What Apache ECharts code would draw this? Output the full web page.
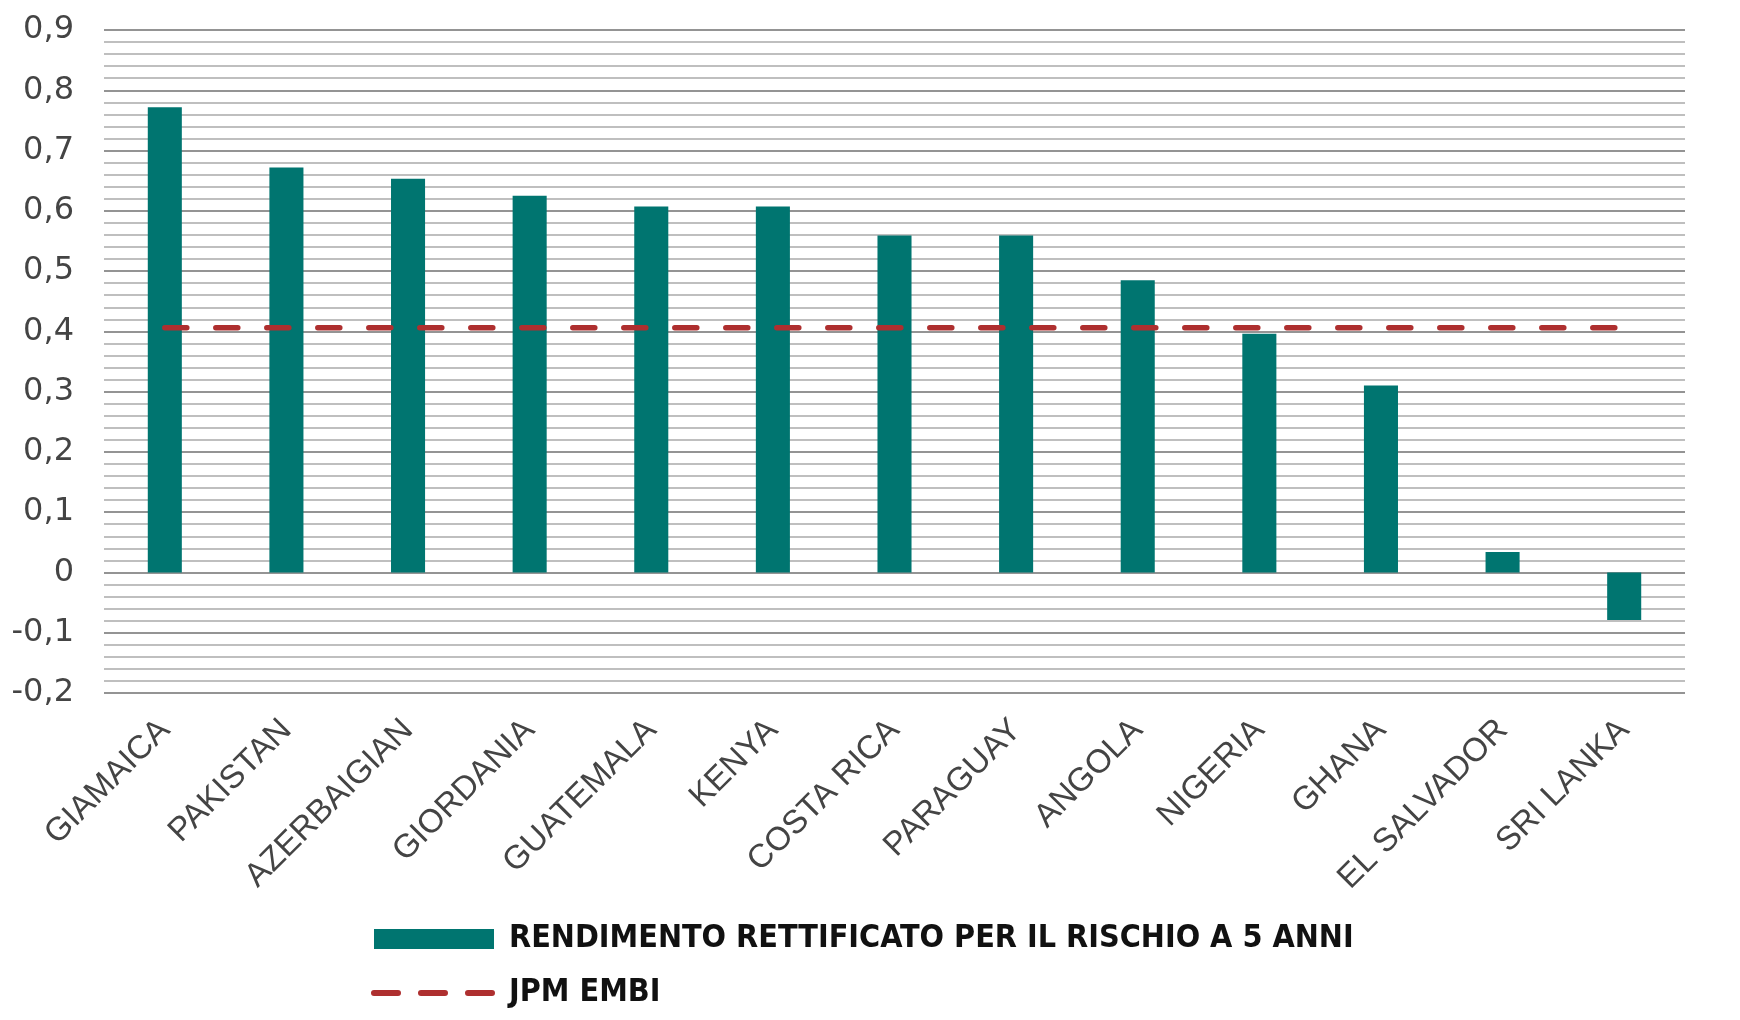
<!DOCTYPE html>
<html>
<head>
<meta charset="utf-8">
<script src="https://cdn.jsdelivr.net/npm/echarts@6/dist/echarts.min.js"></script>
<style>
html,body{margin:0;padding:0;background:#fff;}
#chart{width:1740px;height:1020px;}
</style>
</head>
<body>
<div id="chart"></div>
<script>
var categories = ['GIAMAICA','PAKISTAN','AZERBAIGIAN','GIORDANIA','GUATEMALA','KENYA','COSTA RICA','PARAGUAY','ANGOLA','NIGERIA','GHANA','EL SALVADOR','SRI LANKA'];
var rendimento = [0.772, 0.672, 0.653, 0.625, 0.607, 0.607, 0.559, 0.559, 0.485, 0.396, 0.31, 0.034, -0.079];
var embi = [0.406, 0.406, 0.406, 0.406, 0.406, 0.406, 0.406, 0.406, 0.406, 0.406, 0.406, 0.406, 0.406];
var seriesNames = ['RENDIMENTO RETTIFICATO PER IL RISCHIO A 5 ANNI', 'JPM EMBI'];

var chart = echarts.init(document.getElementById('chart'));
chart.setOption({
  animation: false,
  backgroundColor: '#ffffff',
  grid: {left: 104, right: 55, top: 30, bottom: 327, containLabel: false},
  legend: {
    orient: 'vertical',
    left: 366,
    top: 916,
    itemWidth: 120,
    itemHeight: 20,
    itemGap: 18,
    data: [
      {name: seriesNames[0], icon: 'rect'},
      {
        name: seriesNames[1],
        itemStyle: {opacity: 0},
        lineStyle: {color: '#ae2f2f', width: 6, type: [24, 23], cap: 'round', opacity: 1}
      }
    ],
    textStyle: {
      fontFamily: '"Liberation Sans Narrow","DejaVu Sans Condensed","Roboto Condensed",sans-serif',
      fontWeight: 'bold',
      fontSize: 32,
      color: '#111111',
      padding: [0, 0, 0, 10],
      lineHeight: 36
    }
  },
  xAxis: {
    type: 'category',
    data: categories,
    boundaryGap: true,
    axisLine: {show: false, onZero: false},
    axisTick: {show: false},
    axisLabel: {
      rotate: 45,
      interval: 0,
      margin: 32,
      fontFamily: '"Liberation Sans",Arial,sans-serif',
      fontSize: 33,
      color: '#444444'
    },
    splitLine: {show: false}
  },
  yAxis: {
    type: 'value',
    min: -0.2,
    max: 0.9,
    interval: 0.1,
    axisLine: {show: false},
    axisTick: {show: false},
    axisLabel: {
      margin: 30,
      fontFamily: '"DejaVu Sans",sans-serif',
      fontSize: 32,
      color: '#444444',
      formatter: function (v) {
        var r = Math.round(v * 10) / 10;
        if (r === 0) return '0';
        return r.toFixed(1).replace('.', ',');
      }
    },
    splitLine: {show: true, lineStyle: {color: '#707070', width: 1.6}},
    minorTick: {show: false, splitNumber: 5},
    minorSplitLine: {show: true, lineStyle: {color: '#bfbfbf', width: 2}}
  },
  series: [
    {
      name: seriesNames[0],
      type: 'bar',
      data: rendimento,
      barWidth: '28%',
      itemStyle: {color: '#007570'},
      z: 2
    },
    {
      name: seriesNames[1],
      type: 'line',
      data: embi,
      symbol: 'none',
      z: 3,
      lineStyle: {color: '#ae2f2f', width: 5.5, type: [22, 29], cap: 'round'},
      itemStyle: {color: '#ae2f2f'}
    }
  ]
});
</script>
</body>
</html>
